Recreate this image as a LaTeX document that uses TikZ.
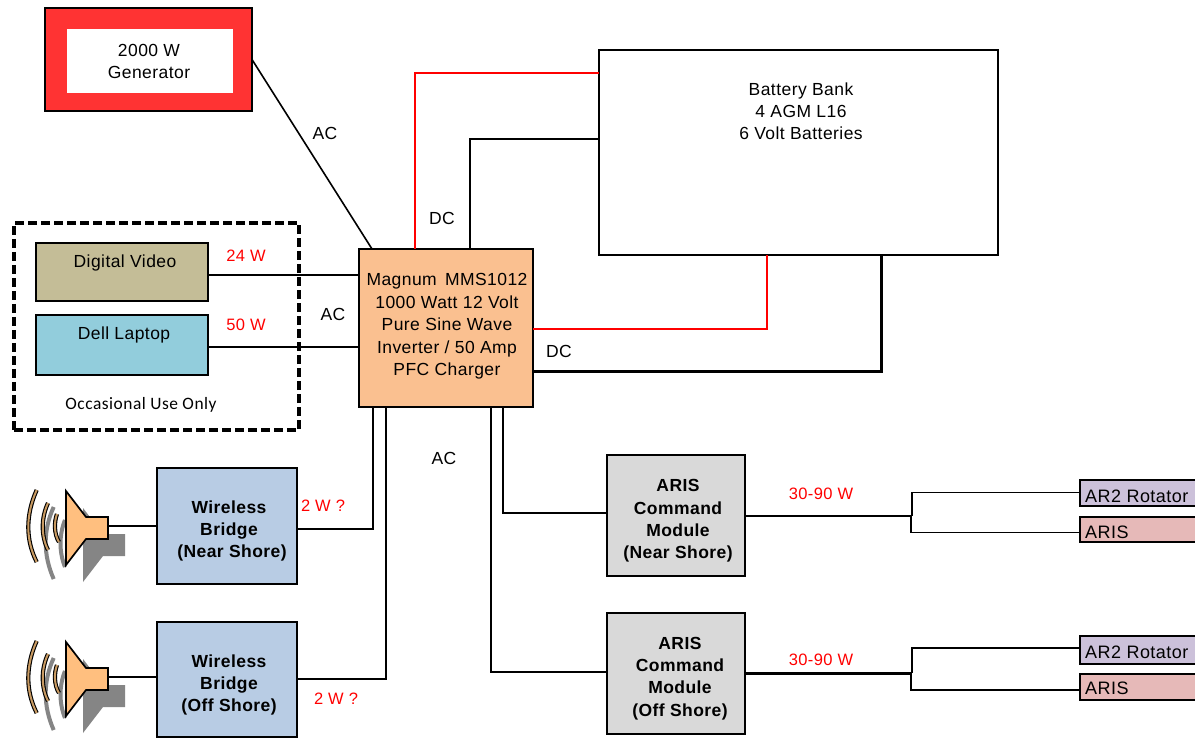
\documentclass[tikz,border=0pt]{standalone}
\usepackage{fontspec}
\setmainfont{Liberation Sans}[LetterSpace=2.5]
\newfontfamily\occfont{Carlito}[LetterSpace=3]
\tikzset{
  x=1pt,y=-1pt,
  box/.style={draw=black,line width=2pt,rectangle,inner sep=0pt,outer sep=0pt},
  txt/.style={inner sep=0pt,align=center,font=\fontsize{17.5}{22.4}\selectfont},
  boldtxt/.style={txt,font=\fontsize{17.5}{22.4}\selectfont\bfseries},
  lab/.style={inner sep=0pt,font=\fontsize{17.5}{22}\selectfont,align=center},
  redlab/.style={lab,text=red,font=\fontsize{16.5}{20}\selectfont},
  wire/.style={draw=black,line width=2pt},
  midwire/.style={draw=black,line width=2.5pt},
  heavywire/.style={draw=black,line width=3pt},
  thinwire/.style={draw=black,line width=1.6pt},
  redwire/.style={draw=red,line width=2.4pt},
  leaf/.style={box,minimum width=120pt,minimum height=26pt},
  leaftxt/.style={inner sep=0pt,anchor=west,font=\fontsize{18}{22}\selectfont}
}
\definecolor{genred}{HTML}{FF3333}
\definecolor{tan1}{HTML}{C4BD97}
\definecolor{cyan1}{HTML}{92CDDC}
\definecolor{mag1}{HTML}{FAC090}
\definecolor{cone1}{HTML}{FFBF7F}
\definecolor{arc1}{HTML}{C89A62}
\definecolor{shade1}{HTML}{858585}
\definecolor{blue1}{HTML}{B8CCE4}
\definecolor{gray1}{HTML}{D9D9D9}
\definecolor{purple1}{HTML}{CCC1DA}
\definecolor{pink1}{HTML}{E6B9B8}
\newcommand{\speaker}[2]{%
  \begin{scope}[yshift=-#1pt]
    \fill[shade1] (83,508) -- (103,534) -- (125,534) -- (125,556) -- (103,556) -- (83,582) -- cycle;
    \draw[shade1,line width=4pt] (53.7,507) .. controls (43,530) and (43,555) .. (53.7,579);
    \draw[shade1,line width=4pt] (65,520) .. controls (59,535) and (59,552) .. (65,567);
    \foreach \a/\b/\c/\d/\e/\f/\g/\h in {36.7/490/25.5/515/25.5/540/36.7/562, 48/503/41/518/41/536/48/550, 57/514/54/522/54/534/59/542}{
      \draw[black,line width=4.2pt] (\a,\b) .. controls (\c,\d) and (\e,\f) .. (\g,\h);
      \draw[arc1,line width=2pt] (\a,\b) .. controls (\c,\d) and (\e,\f) .. (\g,\h);
    }
    \draw[black,line width=1.7pt,fill=cone1] (66,491) -- (86,517) -- (108,517) -- (108,539) -- (86,539) -- (66,565) -- cycle;
    \node[inner sep=0pt,minimum size=0pt] (#2) at (108,526) {};
  \end{scope}%
}
\begin{document}
\begin{tikzpicture}
\useasboundingbox (0,0) rectangle (1195,738);
\fill[white] (0,0) rectangle (1195,738);

\node[box,fill=genred,minimum width=207pt,minimum height=103pt] (gen) at (148.5,59.5) {};
\node[fill=white,inner sep=0pt,outer sep=0pt,minimum width=166pt,minimum height=64pt,align=center,font=\fontsize{17.5}{22}\selectfont] (gentext) at (150,61) {\hspace*{-2pt}2000 W\\\hspace*{-2pt}Generator};

\node[draw=black,line width=3.5pt,dash pattern=on 9pt off 4pt,minimum width=285pt,minimum height=207pt,inner sep=0pt,outer sep=0pt] (occ) at (156.5,326.5) {};
\node[inner sep=0pt,font=\occfont\fontsize{17.4}{18}\selectfont] (occtext) at (141,404.5) {Occasional Use Only};

\node[box,fill=tan1,minimum width=172pt,minimum height=58pt] (dv) at (122,272) {};
\node[lab] (dvtext) at (125,263) {Digital Video};
\node[box,fill=cyan1,minimum width=172pt,minimum height=60pt] (dell) at (122,345) {};
\node[lab] (delltext) at (124,335) {Dell Laptop};

\node[box,fill=mag1,minimum width=174pt,minimum height=158pt] (mag) at (446,328) {};
\node[txt] (magtext) at (447,326.5) {Magnum\hspace{3pt} MMS1012\\1000 Watt 12 Volt\\Pure Sine Wave\\Inverter / 50 Amp\\PFC Charger};
\node[box,fill=white,minimum width=399pt,minimum height=205pt] (bat) at (798.5,152.5) {};
\node[lab] (battext) at (801,111.5) {Battery Bank\\4 AGM L16\\6 Volt Batteries};

\node[box,fill=blue1,minimum width=140pt,minimum height=116pt] (wbn) at (227,526) {};
\node[boldtxt] (wbntext) at (229,531) {Wireless\\Bridge\\\hspace*{6pt}(Near Shore)};
\node[box,fill=blue1,minimum width=140pt,minimum height=115pt] (wbo) at (227,679.5) {};
\node[boldtxt] (wbotext) at (229,685) {Wireless\\Bridge\\(Off Shore)};
\node[box,fill=gray1,minimum width=138pt,minimum height=121pt] (acn) at (676,515.5) {};
\node[boldtxt] (acntext) at (678,521) {ARIS\\Command\\Module\\(Near Shore)};
\node[box,fill=gray1,minimum width=138pt,minimum height=121pt] (aco) at (676,673.5) {};
\node[boldtxt] (acotext) at (680,678.5) {ARIS\\Command\\Module\\(Off Shore)};

\node[leaf,fill=purple1] (r1) at (1140,493) {};
\node[leaftxt] (r1text) at (1085,496) {AR2 Rotator};
\node[leaf,fill=pink1,minimum height=25pt] (a1) at (1140,529.5) {};
\node[leaftxt] (a1text) at (1085,532) {ARIS};
\node[leaf,fill=purple1,minimum height=28pt] (r2) at (1140,650) {};
\node[leaftxt] (r2text) at (1085,652) {AR2 Rotator};
\node[leaf,fill=pink1] (a2) at (1140,687) {};
\node[leaftxt] (a2text) at (1085,688) {ARIS};

\speaker{0}{spn}
\speaker{151}{spo}

\draw[thinwire] (gen.east) -- (mag.north -| 372,0);
\draw[redwire] (mag.north -| 415,0) -- (415,73) -- (bat.west |- 0,73);
\draw[midwire] (mag.north -| 470,0) -- (470,139) -- (bat.west |- 0,139);
\draw[redwire,line width=2pt] (mag.east |- 0,329) -- (767,329) -- (bat.south -| 767,0);
\draw[heavywire] (mag.east |- 0,371) -- (881,371) -- (bat.south -| 881,0);
\draw[wire] (dv.east |- 0,275) -- (mag.west |- 0,275);
\draw[wire] (dell.east |- 0,347) -- (mag.west |- 0,347);
\draw[wire] (wbn.east |- 0,529) -- (373,529) -- (mag.south -| 373,0);
\draw[wire] (wbo.east |- 0,679) -- (386,679) -- (mag.south -| 386,0);
\draw[wire] (mag.south -| 503,0) -- (503,513) -- (acn.west |- 0,513);
\draw[wire] (mag.south -| 491,0) -- (491,672) -- (aco.west |- 0,672);
\draw[wire] (spn) -- (wbn.west |- spn);
\draw[wire] (spo) -- (wbo.west |- spo);
\draw[midwire] (acn.east |- 0,516) -- (912,516);
\draw[thinwire] (912,516) -- (912,492.5) -- (r1.west |- 0,492.5);
\draw[thinwire] (911,516) -- (911,532.5) -- (a1.west |- 0,532.5);
\draw[heavywire] (aco.east |- 0,673) -- (912,673);
\draw[thinwire] (912,673) -- (912,648) -- (r2.west |- 0,648);
\draw[thinwire] (911,673) -- (911,690) -- (a2.west |- 0,690);

\node[lab] (l1) at (325,133) {AC};
\node[lab] (l2) at (442,218) {DC};
\node[lab] (l3) at (333,314) {AC};
\node[lab] (l4) at (559,351) {DC};
\node[lab] (l5) at (444,458) {AC};
\node[redlab] (w1) at (246,256) {24 W};
\node[redlab] (w2) at (246,325) {50 W};
\node[redlab] (w3) at (323,506) {2 W ?};
\node[redlab] (w4) at (336,699) {2 W ?};
\node[redlab] (w5) at (821,494) {30-90 W};
\node[redlab] (w6) at (821,660) {30-90 W};
\end{tikzpicture}
\end{document}
